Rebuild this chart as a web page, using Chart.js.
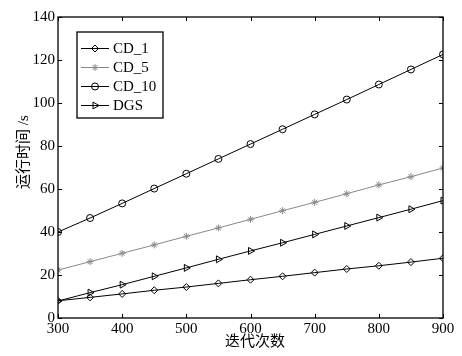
<!DOCTYPE html>
<html>
<head>
<meta charset="utf-8">
<script src="https://cdn.jsdelivr.net/npm/chart.js@4/dist/chart.umd.min.js"></script>
<style>
html,body{margin:0;padding:0;background:#fff;}
#wrap{width:462px;height:356px;position:relative;}
</style>
</head>
<body>
<div id="wrap"><canvas id="c" width="462" height="356"></canvas></div>
<script>
const iterations = [300,350,400,450,500,550,600,650,700,750,800,850,900];
const cd1  = [8.0,9.6,11.2,12.9,14.4,16.1,17.8,19.4,21.1,22.8,24.3,26.0,27.8];
const cd5  = [22.3,26.2,30.1,34.0,38.0,41.9,45.9,49.9,53.8,57.8,61.9,65.7,69.8];
const cd10 = [40.0,46.5,53.3,60.2,67.1,74.0,80.9,87.8,94.7,101.6,108.6,115.6,122.6];
const dgs  = [7.9,11.8,15.5,19.4,23.3,27.3,31.2,35.0,38.9,42.8,46.7,50.6,54.6];
const seriesNames = ['CD_1','CD_5','CD_10','DGS'];
const xTicks = [300,400,500,600,700,800,900];
const yTicks = [0,20,40,60,80,100,120,140];
const xTitle = '迭代次数';
const yTitle = '运行时间 /s';

const SERIF = '"Liberation Serif","DejaVu Serif",serif';
const CJK = '"Liberation Serif","Noto Sans CJK SC",serif';

function pts(arr){ return iterations.map((x,i)=>({x:x,y:arr[i]})); }

const styles = [
  {color:'#000', pointStyle:'rectRot', radius:3.5, rotation:0},
  {color:'#888', pointStyle:'star', radius:3.5, rotation:0},
  {color:'#000', pointStyle:'circle', radius:3.5, rotation:0},
  {color:'#000', pointStyle:'triangle', radius:4, rotation:90}
];
const dataArrays = [cd1, cd5, cd10, dgs];

const datasets = seriesNames.map((n,i)=>({
  label:n,
  data:pts(dataArrays[i]),
  borderColor:styles[i].color,
  backgroundColor:'rgba(0,0,0,0)',
  pointBorderColor:styles[i].color,
  pointBackgroundColor:'rgba(255,255,255,0)',
  borderWidth:1,
  pointBorderWidth:1,
  pointStyle:styles[i].pointStyle,
  pointRadius:styles[i].radius,
  pointRotation:styles[i].rotation,
  tension:0
}));

const framePlugin = {
  id:'frame',
  afterDraw(chart){
    const ctx = chart.ctx, a = chart.chartArea;
    const xs = chart.scales.x, ys = chart.scales.y;
    ctx.save();
    ctx.strokeStyle = '#000';
    ctx.lineWidth = 1.3;
    ctx.strokeRect(a.left, a.top, a.right-a.left, a.bottom-a.top);
    ctx.lineWidth = 1;
    const L = 4;
    yTicks.forEach(v=>{
      const y = Math.round(ys.getPixelForValue(v))+0.5;
      ctx.beginPath();
      ctx.moveTo(a.left, y); ctx.lineTo(a.left+L, y);
      ctx.moveTo(a.right, y); ctx.lineTo(a.right-L, y);
      ctx.stroke();
    });
    xTicks.forEach(v=>{
      const x = Math.round(xs.getPixelForValue(v))+0.5;
      ctx.beginPath();
      ctx.moveTo(x, a.bottom); ctx.lineTo(x, a.bottom-L);
      ctx.moveTo(x, a.top); ctx.lineTo(x, a.top+L);
      ctx.stroke();
    });
    // axis titles
    ctx.fillStyle = '#000';
    ctx.font = '15px ' + CJK;
    ctx.textAlign = 'center';
    ctx.textBaseline = 'middle';
    ctx.fillText(xTitle, 255, 342);
    ctx.save();
    ctx.translate(24, 152);
    ctx.rotate(-Math.PI/2);
    ctx.fillText(yTitle, 0, 0);
    ctx.restore();
    // legend
    const bx = 77, by = 32, bw = 86, bh = 86;
    ctx.fillStyle = '#fff';
    ctx.fillRect(bx, by, bw, bh);
    ctx.strokeStyle = '#000';
    ctx.lineWidth = 1.3;
    ctx.strokeRect(bx, by, bw, bh);
    const rows = [48, 67, 86, 105];
    chart.data.datasets.forEach((ds,i)=>{
      const y = rows[i];
      ctx.strokeStyle = ds.borderColor;
      ctx.lineWidth = 1;
      ctx.beginPath();
      ctx.moveTo(81, y+0.5); ctx.lineTo(109, y+0.5);
      ctx.stroke();
      ctx.fillStyle = 'rgba(255,255,255,0)';
      ctx.strokeStyle = ds.pointBorderColor;
      Chart.helpers.drawPoint(ctx, {
        pointStyle: ds.pointStyle, radius: ds.pointRadius,
        rotation: ds.pointRotation, borderWidth: 1
      }, 95, y+0.5);
      ctx.fillStyle = '#000';
      ctx.font = '15px ' + SERIF;
      ctx.textAlign = 'left';
      ctx.textBaseline = 'middle';
      ctx.fillText(ds.label, 113, y+1);
    });
    ctx.restore();
  }
};

new Chart(document.getElementById('c'), {
  type:'line',
  data:{datasets:datasets},
  options:{
    responsive:false,
    animation:false,
    devicePixelRatio:1,
    layout:{padding:{left:0,top:17,right:19,bottom:0}},
    plugins:{legend:{display:false}, tooltip:{enabled:false}},
    scales:{
      x:{
        type:'linear', min:300, max:900,
        afterBuildTicks(s){ s.ticks = xTicks.map(v=>({value:v})); },
        afterFit(s){ s.height = 38; },
        grid:{display:false, drawTicks:false},
        border:{display:false},
        ticks:{color:'#000', font:{family:SERIF,size:15}, padding:2, maxRotation:0}
      },
      y:{
        type:'linear', min:0, max:140,
        afterBuildTicks(s){ s.ticks = yTicks.map(v=>({value:v})); },
        afterFit(s){ s.width = 58; },
        grid:{display:false, drawTicks:false},
        border:{display:false},
        ticks:{color:'#000', font:{family:SERIF,size:15}, padding:3}
      }
    }
  },
  plugins:[framePlugin]
});
</script>
</body>
</html>
